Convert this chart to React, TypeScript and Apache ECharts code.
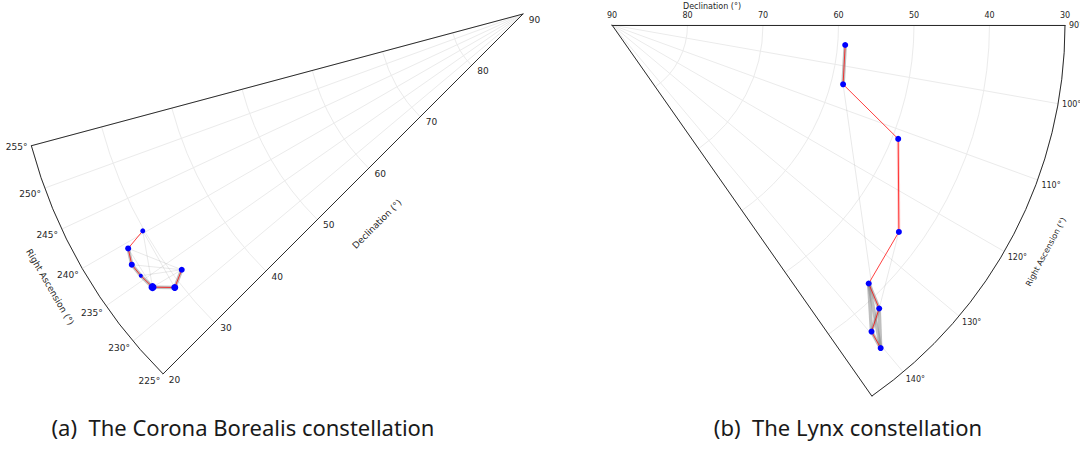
import React, { useEffect, useRef } from 'react';
import * as echarts from 'echarts';

// ---------- (a) Corona Borealis ----------
const crbRA = [240.3, 239.3, 237.35, 235.6, 233.6, 231.85, 233.15];
const crbDec = [29.8, 26.85, 26.1, 26.3, 26.7, 29.1, 31.35];
const crbSize = [5, 6, 6, 4, 8, 7, 6];
const crbPath = [0, 1, 2, 3, 4, 5, 6];
const crbGrayThick = [[1, 2], [2, 3], [3, 4], [4, 5], [5, 6]];
const crbGrayFaint = [[0, 4], [0, 5], [1, 6], [1, 4], [4, 6], [2, 6], [3, 6]];
const crbRaTicks = [225, 255, 5];
const crbDecTicks = [20, 90, 10];

// ---------- (b) Lynx ----------
const lynRA = [94.9, 104.4, 111.7, 125.8, 135.2, 136.7, 139.75, 140.25];
const lynDec = [59.0, 58.4, 49.2, 43.15, 41.75, 38.4, 36.8, 34.35];
const lynSize = [6, 6, 6, 6, 6, 6, 6, 6];
const lynPath = [0, 1, 2, 3, 4, 5, 6, 7];
const lynGrayThick = [[0, 1], [4, 5], [4, 6], [4, 7], [5, 7], [6, 7], [5, 6]];
const lynGrayFaint = [[1, 7], [3, 5]];
const lynPinkHalo = [[2, 3]];
const lynRaTicks = [90, 145, 10];
const lynDecTicks = [30, 90, 10];

const captionA = '(a)  The Corona Borealis constellation';
const captionB = '(b)  The Lynx constellation';

const GRID = '#ebebeb';
const SPINE = '#2b2b2b';
const TXT = '#262626';
const FONT = 'DejaVu Sans';

function edgeSeries(polarIndex: number, ra: number[], dec: number[], edges: number[][], color: string, width: number, opacity: number, z: number) {
  return edges.map(([i, j]) => ({
    type: 'line',
    coordinateSystem: 'polar',
    polarIndex,
    data: [[dec[i], ra[i]], [dec[j], ra[j]]],
    symbol: 'none',
    silent: true,
    clip: false,
    z,
    lineStyle: { color, width, opacity },
  }));
}

function constellation(polarIndex: number, ra: number[], dec: number[], size: number[], path: number[], thick: number[][], faint: number[][], halo: number[][]) {
  return [
    ...edgeSeries(polarIndex, ra, dec, faint, '#9a9a9a', 1, 0.22, 2),
    ...edgeSeries(polarIndex, ra, dec, thick, '#8a8a8a', 3.5, 0.55, 2),
    ...edgeSeries(polarIndex, ra, dec, halo, '#ff0000', 3, 0.18, 3),
    {
      type: 'line',
      coordinateSystem: 'polar',
      polarIndex,
      data: path.map((i) => [dec[i], ra[i]]),
      symbol: 'none',
      silent: true,
      clip: false,
      z: 4,
      lineStyle: { color: '#ff0000', width: 1, opacity: 0.75 },
    },
    {
      type: 'scatter',
      coordinateSystem: 'polar',
      polarIndex,
      data: ra.map((r, i) => [dec[i], r]),
      symbolSize: (_v: any, p: any) => size[p.dataIndex],
      itemStyle: { color: '#0000ff', opacity: 1 },
      silent: true,
      clip: false,
      z: 5,
    },
  ];
}

export default function App() {
  const ref = useRef<HTMLDivElement>(null);
  useEffect(() => {
    if (!ref.current) return;
    const chart = echarts.init(ref.current, undefined, { renderer: 'svg' });
    const angleMain = (min: number, max: number, interval: number, startAngle: number, endAngle: number, fontSize: number) => ({
      type: 'value', min, max, interval, startAngle, endAngle, clockwise: true,
      axisLine: { show: false },
      axisTick: { show: false },
      axisLabel: {
        formatter: (v: number) => ((v - min) % interval === 0 ? v + '°' : ''),
        margin: 4, fontSize, color: TXT, fontFamily: FONT, showMinLabel: true, showMaxLabel: true,
      },
      splitLine: { show: true, lineStyle: { color: GRID, width: 1 } },
      z: 1,
    });
    // second polar: draws the outer arc and the other straight edge on top
    const angleEdge = (min: number, max: number, startAngle: number, endAngle: number) => ({
      type: 'value', min, max, startAngle, endAngle, clockwise: false,
      axisLine: { show: true, lineStyle: { color: SPINE, width: 1 } },
      axisTick: { show: false },
      axisLabel: { show: false },
      splitLine: { show: false },
      z: 8,
    });
    const radiusMain = (min: number, max: number, interval: number, fontSize: number, margin: number) => ({
      type: 'value', min, max, interval, inverse: true,
      axisLine: { show: true, lineStyle: { color: SPINE, width: 1 } },
      axisTick: { show: false },
      axisLabel: { fontSize, color: TXT, fontFamily: FONT, margin, showMinLabel: true, showMaxLabel: true },
      splitLine: { show: true, lineStyle: { color: GRID, width: 1 } },
      z: 2,
    });
    const radiusEdge = (min: number, max: number) => ({
      type: 'value', min, max, inverse: true,
      axisLine: { show: true, lineStyle: { color: SPINE, width: 1 } },
      axisTick: { show: false },
      axisLabel: { show: false },
      splitLine: { show: false },
      z: 8,
    });

    const option: any = {
      animation: false,
      backgroundColor: '#ffffff',
      polar: [
        { center: [523, 14], radius: 509 },
        { center: [523, 14], radius: 509 },
        { center: [612, 25], radius: 453 },
        { center: [612, 25], radius: 453 },
      ],
      angleAxis: [
        { polarIndex: 0, ...angleMain(crbRaTicks[0], crbRaTicks[1], crbRaTicks[2], 225, 195, 9) },
        { polarIndex: 1, ...angleEdge(0, 1, 195, 225) },
        { polarIndex: 2, ...angleMain(lynRaTicks[0], lynRaTicks[1], lynRaTicks[2], 0, -55, 8) },
        { polarIndex: 3, ...angleEdge(0, 1, -55, 0) },
      ],
      radiusAxis: [
        { polarIndex: 0, ...radiusMain(crbDecTicks[0], crbDecTicks[1], crbDecTicks[2], 9, 8) },
        { polarIndex: 1, ...radiusEdge(crbDecTicks[0], crbDecTicks[1]) },
        { polarIndex: 2, ...radiusMain(lynDecTicks[0], lynDecTicks[1], lynDecTicks[2], 8, 6) },
        { polarIndex: 3, ...radiusEdge(lynDecTicks[0], lynDecTicks[1]) },
      ],
      series: [
        ...constellation(0, crbRA, crbDec, crbSize, crbPath, crbGrayThick, crbGrayFaint, []),
        ...constellation(2, lynRA, lynDec, lynSize, lynPath, lynGrayThick, lynGrayFaint, lynPinkHalo),
      ],
      graphic: [
        { type: 'text', x: 377, y: 224, rotation: Math.PI / 4, style: { text: 'Declination (°)', fontSize: 9, fontFamily: FONT, fill: TXT, align: 'center', verticalAlign: 'middle' } },
        { type: 'text', x: 50, y: 287, rotation: -Math.PI / 3, style: { text: 'Right Ascension (°)', fontSize: 9, fontFamily: FONT, fill: TXT, align: 'center', verticalAlign: 'middle' } },
        { type: 'text', x: 712, y: 6, style: { text: 'Declination (°)', fontSize: 8, fontFamily: FONT, fill: TXT, align: 'center', verticalAlign: 'middle' } },
        { type: 'text', x: 1046, y: 252, rotation: 1.08, style: { text: 'Right Ascension (°)', fontSize: 8, fontFamily: FONT, fill: TXT, align: 'center', verticalAlign: 'middle' } },
        { type: 'text', x: 243, y: 427, style: { text: captionA, fontSize: 22, fontFamily: 'Noto Sans', fill: '#1a1a1a', align: 'center', verticalAlign: 'middle' } },
        { type: 'text', x: 848, y: 427, style: { text: captionB, fontSize: 22, fontFamily: 'Noto Sans', fill: '#1a1a1a', align: 'center', verticalAlign: 'middle' } },
      ],
    };
    chart.setOption(option);
    return () => chart.dispose();
  }, []);
  return <div ref={ref} style={{ position: 'absolute', left: 0, top: 0, width: 1080, height: 449 }} />;
}
